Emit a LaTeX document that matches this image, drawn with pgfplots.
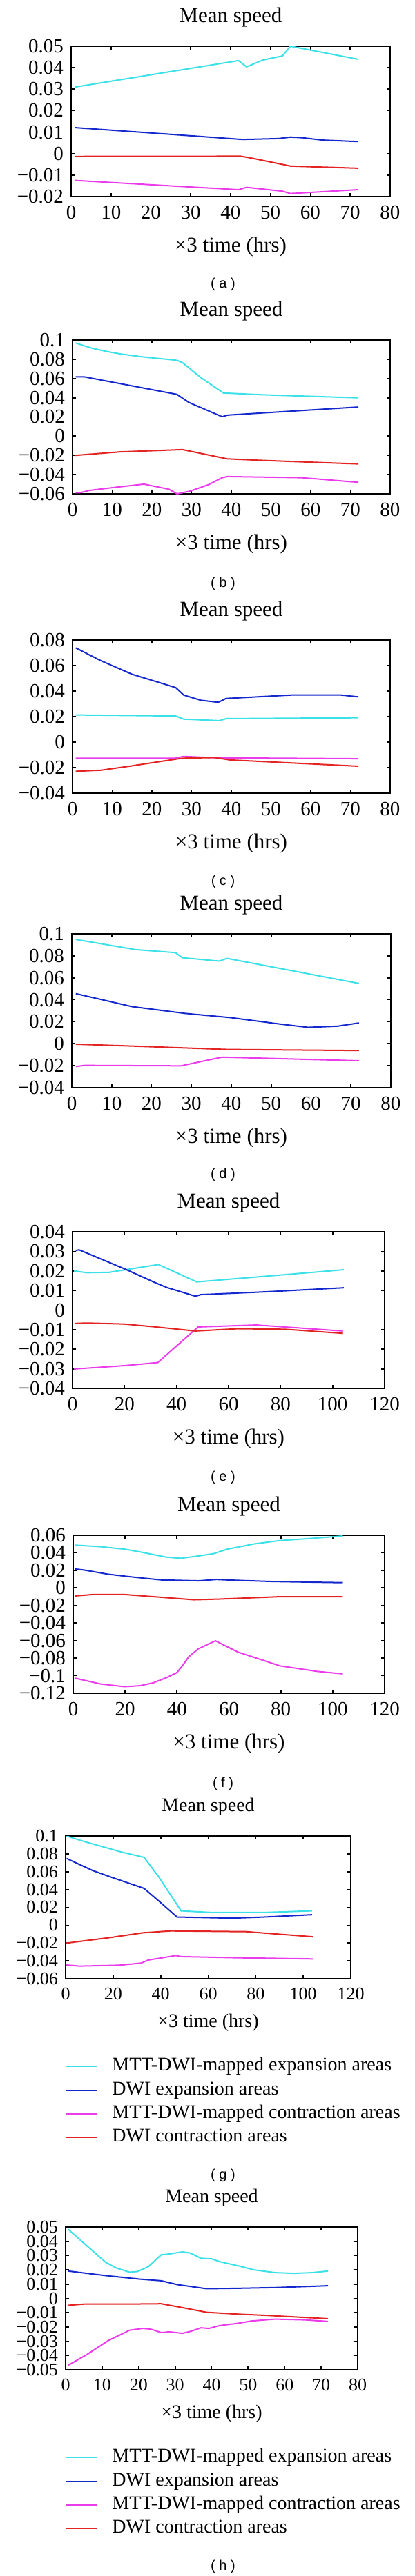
\documentclass[border=0pt]{standalone}
\usepackage{pgfplots}
\pgfplotsset{compat=1.18}
\usepackage{fontspec}
\setmainfont{Liberation Serif}
\newfontfamily\subfont{Liberation Sans}
\definecolor{cyanC}{RGB}{60,225,232}
\definecolor{blueC}{RGB}{20,40,205}
\definecolor{magC}{RGB}{235,60,235}
\definecolor{redC}{RGB}{228,35,35}
\pgfplotsset{
 panel/.style={
  scale only axis, anchor=south west,
  scaled y ticks=false, scaled x ticks=false,
  axis line style={line width=0.9pt},
  every tick/.style={black,line width=0.9pt},
  major tick length=2.5pt, tick align=inside,
  title={Mean speed},
  title style={at={(axis description cs:0.5,1)}, anchor=center, yshift=15pt},
  xlabel={×3 time (hrs)},
  xlabel style={at={(axis description cs:0.5,0)}, anchor=center, yshift=-36.5pt},
  /pgf/number format/assume math mode=true,
  xticklabel style={yshift=-3pt},
  yticklabel style={xshift=-2pt},
  every axis plot/.append style={line width=1pt, no marks},
  label style={font=\fontsize{15.5}{18}\selectfont},
  title style={font=\fontsize{15.5}{18}\selectfont},
  tick label style={font=\fontsize{14.5}{16}\selectfont},
 },
 panelsmall/.style={
  panel,
  xlabel style={yshift=4.5pt},
  label style={font=\fontsize{14}{17}\selectfont},
  title style={font=\fontsize{14}{17}\selectfont},
  tick label style={font=\fontsize{13}{15}\selectfont},
  legend style={at={(axis description cs:0,0)}, anchor=north west, yshift=-56.75pt,
    draw=none, fill=none, inner sep=0pt, row sep=3.65pt, column sep=10pt,
    font=\fontsize{14}{17}\selectfont,
    nodes={inner sep=0pt, text height=10pt, text depth=3.5pt}},
  legend cell align=left,
  legend image code/.code={\draw[##1,line width=1pt] (0pt,0pt) -- (22.5pt,0pt);},
 },
}
\begin{document}
\begin{tikzpicture}
\useasboundingbox (0,0) rectangle (300pt,-1867.5pt);
% (a)
\begin{axis}[panel, at={(51.5pt,-142.5pt)}, width=231pt, height=109pt,
 xmin=0, xmax=80, ymin=-0.02, ymax=0.05, xtick={0,10,20,30,40,50,60,70,80},
 ytick={-0.02,-0.01,0,0.01,0.02,0.03,0.04,0.05},
 yticklabels={−0.02,−0.01,0,0.01,0.02,0.03,0.04,0.05}]
\addplot[cyanC] coordinates {(1,0.031) (42,0.0433) (44,0.0404) (48,0.0435) (53,0.0455) (55,0.0500) (72,0.0439)};
\addplot[blueC] coordinates {(1,0.0121) (43,0.0066) (52,0.0070) (55,0.0077) (58,0.0074) (63,0.0063) (72,0.0056)};
\addplot[magC] coordinates {(1,-0.0125) (42,-0.0168) (44,-0.0157) (53,-0.0175) (55,-0.0186) (57,-0.0184) (72,-0.0168)};
\addplot[redC] coordinates {(1,-0.0013) (42.5,-0.0012) (45,-0.0020) (55,-0.0058) (72,-0.0068)};
\end{axis}
\node[font=\subfont\fontsize{10}{12}\selectfont] at (161.5pt,-206pt) {( a )};
% (b)
\begin{axis}[panel, at={(52.5pt,-358pt)}, width=230pt, height=111.5pt,
 xmin=0, xmax=80, ymin=-0.06, ymax=0.1, xtick={0,10,20,30,40,50,60,70,80},
 ytick={-0.06,-0.04,-0.02,0,0.02,0.04,0.06,0.08,0.1},
 yticklabels={−0.06,−0.04,−0.02,0,0.02,0.04,0.06,0.08,0.1}]
\addplot[cyanC] coordinates {(0.8,0.0969) (5,0.0914) (9,0.0878) (12.3,0.0854) (17.7,0.0825) (26.3,0.0789) (27.7,0.0765) (32.3,0.061) (38,0.0449) (48.3,0.0430) (72,0.0399)};
\addplot[blueC] coordinates {(0.8,0.0617) (3,0.0617) (17.7,0.0502) (26.3,0.0435) (29.3,0.0351) (37.7,0.0202) (39,0.0219) (72,0.0303)};
\addplot[magC] coordinates {(0.8,-0.0588) (2,-0.0588) (4.3,-0.0564) (11.7,-0.0528) (18,-0.0499) (24.3,-0.0552) (26.3,-0.0600) (29.7,-0.0571) (34.3,-0.0504) (37.7,-0.0432) (39,-0.0420) (57.7,-0.0432) (72,-0.0480)};
\addplot[redC] coordinates {(0.7,-0.0200) (11.7,-0.0164) (27.7,-0.0140) (39,-0.0236) (48.3,-0.0253) (72,-0.0289)};
\end{axis}
\node[font=\subfont\fontsize{10}{12}\selectfont] at (161.5pt,-423pt) {( b )};
% (c)
\begin{axis}[panel, at={(52.5pt,-575pt)}, width=230pt, height=111pt,
 xmin=0, xmax=80, ymin=-0.04, ymax=0.08, xtick={0,10,20,30,40,50,60,70,80},
 ytick={-0.04,-0.02,0,0.02,0.04,0.06,0.08},
 yticklabels={−0.04,−0.02,0,0.02,0.04,0.06,0.08}]
\addplot[cyanC] coordinates {(0.8,0.0213) (26,0.0205) (28,0.0180) (37,0.0168) (38.7,0.0184) (72,0.0191)};
\addplot[blueC] coordinates {(0.8,0.0739) (7,0.0640) (15,0.0532) (26,0.0427) (28,0.0369) (32.3,0.0328) (36.7,0.0312) (38.7,0.0342) (55,0.0369) (67.7,0.0369) (72,0.0355)};
\addplot[magC] coordinates {(0.8,-0.0126) (25.7,-0.0126) (28,-0.0112) (36.3,-0.0123) (72,-0.0130)};
\addplot[redC] coordinates {(0.8,-0.0229) (7.3,-0.0220) (15,-0.0186) (27.7,-0.0126) (35.7,-0.0121) (39.7,-0.0140) (72,-0.0189)};
\end{axis}
\node[font=\subfont\fontsize{10}{12}\selectfont] at (161.5pt,-639pt) {( c )};
% (d)
\begin{axis}[panel, at={(52pt,-788.5pt)}, width=231pt, height=111.5pt,
 xmin=0, xmax=80, ymin=-0.04, ymax=0.1, xtick={0,10,20,30,40,50,60,70,80},
 ytick={-0.04,-0.02,0,0.02,0.04,0.06,0.08,0.1},
 yticklabels={−0.04,−0.02,0,0.02,0.04,0.06,0.08,0.1}]
\addplot[cyanC] coordinates {(1,0.0949) (16.1,0.0856) (26,0.0829) (27.7,0.0783) (37,0.0752) (38.9,0.0777) (72,0.0549)};
\addplot[blueC] coordinates {(1,0.0456) (15.1,0.0338) (28.4,0.0276) (39.7,0.0238) (51.6,0.0182) (59.3,0.0149) (66.6,0.0160) (72,0.0189)};
\addplot[magC] coordinates {(1,-0.0207) (3.2,-0.0197) (27.4,-0.0201) (37.7,-0.0122) (72,-0.0155)};
\addplot[redC] coordinates {(1,-0.0004) (18.4,-0.0025) (39,-0.0052) (72,-0.0062)};
\end{axis}
\node[font=\subfont\fontsize{10}{12}\selectfont] at (161.5pt,-851.5pt) {( d )};
% (e)
\begin{axis}[panel, at={(52.5pt,-1006.5pt)}, width=226pt, height=113.5pt,
 xmin=0, xmax=120, ymin=-0.04, ymax=0.04, xtick={0,20,40,60,80,100,120},
 ytick={-0.04,-0.03,-0.02,-0.01,0,0.01,0.02,0.03,0.04},
 yticklabels={−0.04,−0.03,−0.02,−0.01,0,0.01,0.02,0.03,0.04}]
\addplot[cyanC] coordinates {(0.5,0.0200) (5.6,0.0191) (14.2,0.0193) (33,0.0233) (47.8,0.0144) (104.3,0.0206)};
\addplot[blueC] coordinates {(1.2,0.0304) (2.5,0.0308) (19.8,0.0212) (32,0.0139) (36.6,0.0114) (47.3,0.0071) (49.3,0.0079) (73.8,0.0093) (104.3,0.0114)};
\addplot[magC] coordinates {(0.5,-0.0301) (19.8,-0.0284) (32.8,-0.0268) (48.3,-0.0086) (70.7,-0.0076) (104,-0.0107)};
\addplot[redC] coordinates {(1,-0.0068) (5.6,-0.0066) (19.8,-0.0071) (32,-0.0086) (47.3,-0.0107) (63.6,-0.0095) (81.9,-0.0098) (104,-0.0119)};
\end{axis}
\node[font=\subfont\fontsize{10}{12}\selectfont] at (161.5pt,-1071pt) {( e )};
% (f)
\begin{axis}[panel, at={(53pt,-1227.5pt)}, width=225.5pt, height=114.5pt,
 xmin=0, xmax=120, ymin=-0.12, ymax=0.06, xtick={0,20,40,60,80,100,120},
 ytick={-0.12,-0.1,-0.08,-0.06,-0.04,-0.02,0,0.02,0.04,0.06},
 yticklabels={−0.12,−0.1,−0.08,−0.06,−0.04,−0.02,0,0.02,0.04,0.06}]
\addplot[cyanC] coordinates {(0.8,0.0488) (10.5,0.0470) (19.7,0.0442) (25.8,0.0410) (35.9,0.0351) (41.5,0.0338) (48.2,0.0364) (54.3,0.0392) (59.4,0.0442) (69.6,0.0501) (79.7,0.0540) (88.9,0.0558) (103.9,0.0592)};
\addplot[blueC] coordinates {(0.8,0.0216) (4.4,0.0203) (13.5,0.0156) (22.7,0.0125) (33.9,0.0091) (48.2,0.0081) (55.3,0.0096) (63.4,0.0086) (76.7,0.0073) (103.9,0.0060)};
\addplot[magC] coordinates {(0.8,-0.1029) (10.5,-0.1094) (19.7,-0.1125) (25.8,-0.1114) (30.9,-0.1081) (35.9,-0.1023) (40,-0.0964) (42.1,-0.0886) (44.6,-0.0782) (48.2,-0.0694) (54.8,-0.0603) (63.4,-0.0730) (73.6,-0.0829) (79.7,-0.0888) (94,-0.0951) (103.9,-0.0979)};
\addplot[redC] coordinates {(0.8,-0.0091) (7.4,-0.0075) (19.7,-0.0075) (32.9,-0.0104) (46.6,-0.0135) (56.3,-0.0127) (78.7,-0.0101) (103.9,-0.0101)};
\end{axis}
\node[font=\subfont\fontsize{10}{12}\selectfont] at (161.5pt,-1293pt) {( f )};
% (g)
\begin{axis}[panelsmall, at={(47.5pt,-1434.5pt)}, width=206.5pt, height=103.5pt,
 xmin=0, xmax=120, ymin=-0.06, ymax=0.1, xtick={0,20,40,60,80,100,120},
 ytick={-0.06,-0.04,-0.02,0,0.02,0.04,0.06,0.08,0.1},
 yticklabels={−0.06,−0.04,−0.02,0,0.02,0.04,0.06,0.08,0.1}]
\addplot[cyanC] coordinates {(0.2,0.1000) (9.1,0.0928) (23.6,0.0820) (33,0.0761) (39.2,0.0542) (48.6,0.0161) (61.4,0.0143) (83.6,0.0143) (103.7,0.0161)};
\addlegendentry{MTT-DWI-mapped expansion areas}
\addplot[blueC] coordinates {(0.4,0.0748) (11.3,0.0614) (20.2,0.0529) (33,0.0413) (39.2,0.0272) (46.9,0.0092) (70.3,0.0079) (83.6,0.0092) (103.7,0.0118)};
\addlegendentry{DWI expansion areas}
\addplot[magC] coordinates {(0.2,-0.0445) (5.8,-0.0458) (22.5,-0.0448) (31.9,-0.0424) (34.7,-0.0391) (46.4,-0.0340) (48.6,-0.0352) (72.5,-0.0365) (104,-0.0378)};
\addlegendentry{MTT-DWI-mapped contraction areas}
\addplot[redC] coordinates {(0.2,-0.0201) (18,-0.0141) (32.5,-0.0085) (44.2,-0.0064) (75.9,-0.0072) (104,-0.0129)};
\addlegendentry{DWI contraction areas}
\end{axis}
\node[font=\subfont\fontsize{10}{12}\selectfont] at (161.5pt,-1577pt) {( g )};
% (h)
\begin{axis}[panelsmall, at={(47.5pt,-1718pt)}, width=211.5pt, height=103.5pt,
 xmin=0, xmax=80, ymin=-0.05, ymax=0.05, xtick={0,10,20,30,40,50,60,70,80},
 ytick={-0.05,-0.04,-0.03,-0.02,-0.01,0,0.01,0.02,0.03,0.04,0.05},
 yticklabels={−0.05,−0.04,−0.03,−0.02,−0.01,0,0.01,0.02,0.03,0.04,0.05}]
\addplot[cyanC] coordinates {(0.7,0.0484) (7,0.0342) (11,0.0253) (13.9,0.0213) (17.5,0.0184) (19.7,0.0189) (22.6,0.0221) (26.2,0.0306) (28,0.0310) (32,0.0326) (34.2,0.0318) (37.1,0.0281) (40,0.0277) (42.2,0.0258) (47.2,0.0229) (51.6,0.0200) (57.4,0.0181) (62.5,0.0176) (67.5,0.0181) (71.9,0.0192)};
\addlegendentry{MTT-DWI-mapped expansion areas}
\addplot[blueC] coordinates {(0.7,0.0192) (11,0.0160) (20.4,0.0135) (26.2,0.0124) (30.6,0.0097) (38.6,0.0068) (47.2,0.0071) (57.4,0.0076) (71.9,0.0089)};
\addlegendentry{DWI expansion areas}
\addplot[magC] coordinates {(0.7,-0.0468) (5.9,-0.0392) (11.7,-0.0295) (17.5,-0.0223) (21.2,-0.0210) (23.3,-0.0215) (26.2,-0.0239) (28.4,-0.0234) (32,-0.0244) (34.2,-0.0231) (37.1,-0.0206) (39.3,-0.0210) (42.2,-0.0190) (47.2,-0.0174) (50.9,-0.0158) (57.4,-0.0145) (65.4,-0.0150) (71.9,-0.0161)};
\addlegendentry{MTT-DWI-mapped contraction areas}
\addplot[redC] coordinates {(0.7,-0.0048) (5.2,-0.0039) (18.3,-0.0039) (26.2,-0.0037) (31.3,-0.0061) (38.6,-0.0097) (47.2,-0.0110) (54.5,-0.0118) (71.9,-0.0142)};
\addlegendentry{DWI contraction areas}
\end{axis}
\node[font=\subfont\fontsize{10}{12}\selectfont] at (161.5pt,-1860.5pt) {( h )};
\end{tikzpicture}
\end{document}
